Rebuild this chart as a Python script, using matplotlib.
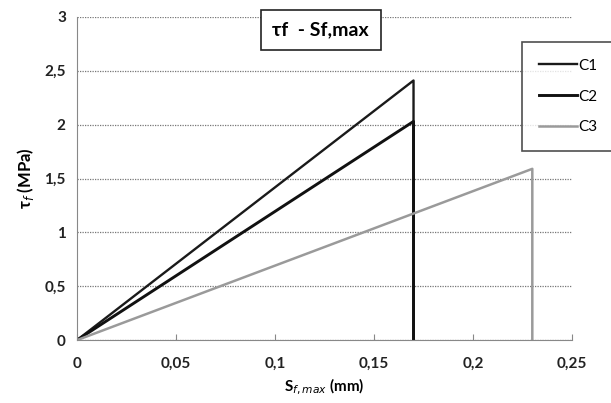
import matplotlib.pyplot as plt
from matplotlib.ticker import FuncFormatter

# data: slip (mm) and bond stress (MPa)
c1_s = [0, 0.17, 0.17]
c1_tau = [0, 2.41, 0]
c2_s = [0, 0.17, 0.17]
c2_tau = [0, 2.03, 0]
c3_s = [0, 0.23, 0.23]
c3_tau = [0, 1.59, 0]

x_ticks = [0, 0.05, 0.1, 0.15, 0.2, 0.25]
y_ticks = [0, 0.5, 1, 1.5, 2, 2.5, 3]

plt.rcParams['font.family'] = ['Lato', 'DejaVu Sans']
fig = plt.figure(figsize=(6.11, 4.03), dpi=100)
ax = fig.add_axes([0.126, 0.156, 0.81, 0.802])

l1, = ax.plot(c1_s, c1_tau, color='#1a1a1a', lw=1.7, label='C1')
l2, = ax.plot(c2_s, c2_tau, color='#111111', lw=2.1, label='C2')
l3, = ax.plot(c3_s, c3_tau, color='#9a9a9a', lw=1.8, label='C3')

ax.set_xlim(0, 0.25)
ax.set_ylim(0, 3)
ax.set_xticks(x_ticks)
ax.set_yticks(y_ticks)
comma = FuncFormatter(lambda v, p: ('%g' % v).replace('.', ','))
ax.xaxis.set_major_formatter(comma)
ax.yaxis.set_major_formatter(comma)

ax.grid(axis='y', color='#777777', ls=(0, (1, 1)), lw=0.9)
for s in ['top', 'right']:
    ax.spines[s].set_visible(False)
ax.spines['left'].set_color('#888888')
ax.spines['bottom'].set_color('#888888')
ax.tick_params(axis='x', direction='in', length=4, color='#888888', pad=12)
ax.tick_params(axis='y', length=0, pad=8)
for t in ax.get_xticklabels() + ax.get_yticklabels():
    t.set_fontsize(11)
    t.set_fontweight('bold')
    t.set_color('#222222')

ax.set_xlabel('S$_{f,max}$ (mm)', fontsize=11, fontweight='bold', labelpad=4)
ax.set_ylabel('τ$_f$ (MPa)', fontsize=12, fontweight='bold', labelpad=6)

# title in a box
fig.text(0.525, 0.926, 'τf  - Sf,max', fontsize=14, fontweight='bold',
         ha='center', va='center',
         bbox=dict(boxstyle='square,pad=0.6', fc='white', ec='#222222', lw=1.2))

leg = fig.legend(handles=[l1, l2, l3], loc='upper left',
                 bbox_to_anchor=(0.854, 0.896), frameon=True, fancybox=False,
                 edgecolor='#222222', fontsize=11, handlelength=2.5,
                 handletextpad=0.1, labelspacing=1.1, borderpad=1.1,
                 borderaxespad=0)
leg.get_frame().set_linewidth(1.2)

fig.savefig('out.png', dpi=100)
